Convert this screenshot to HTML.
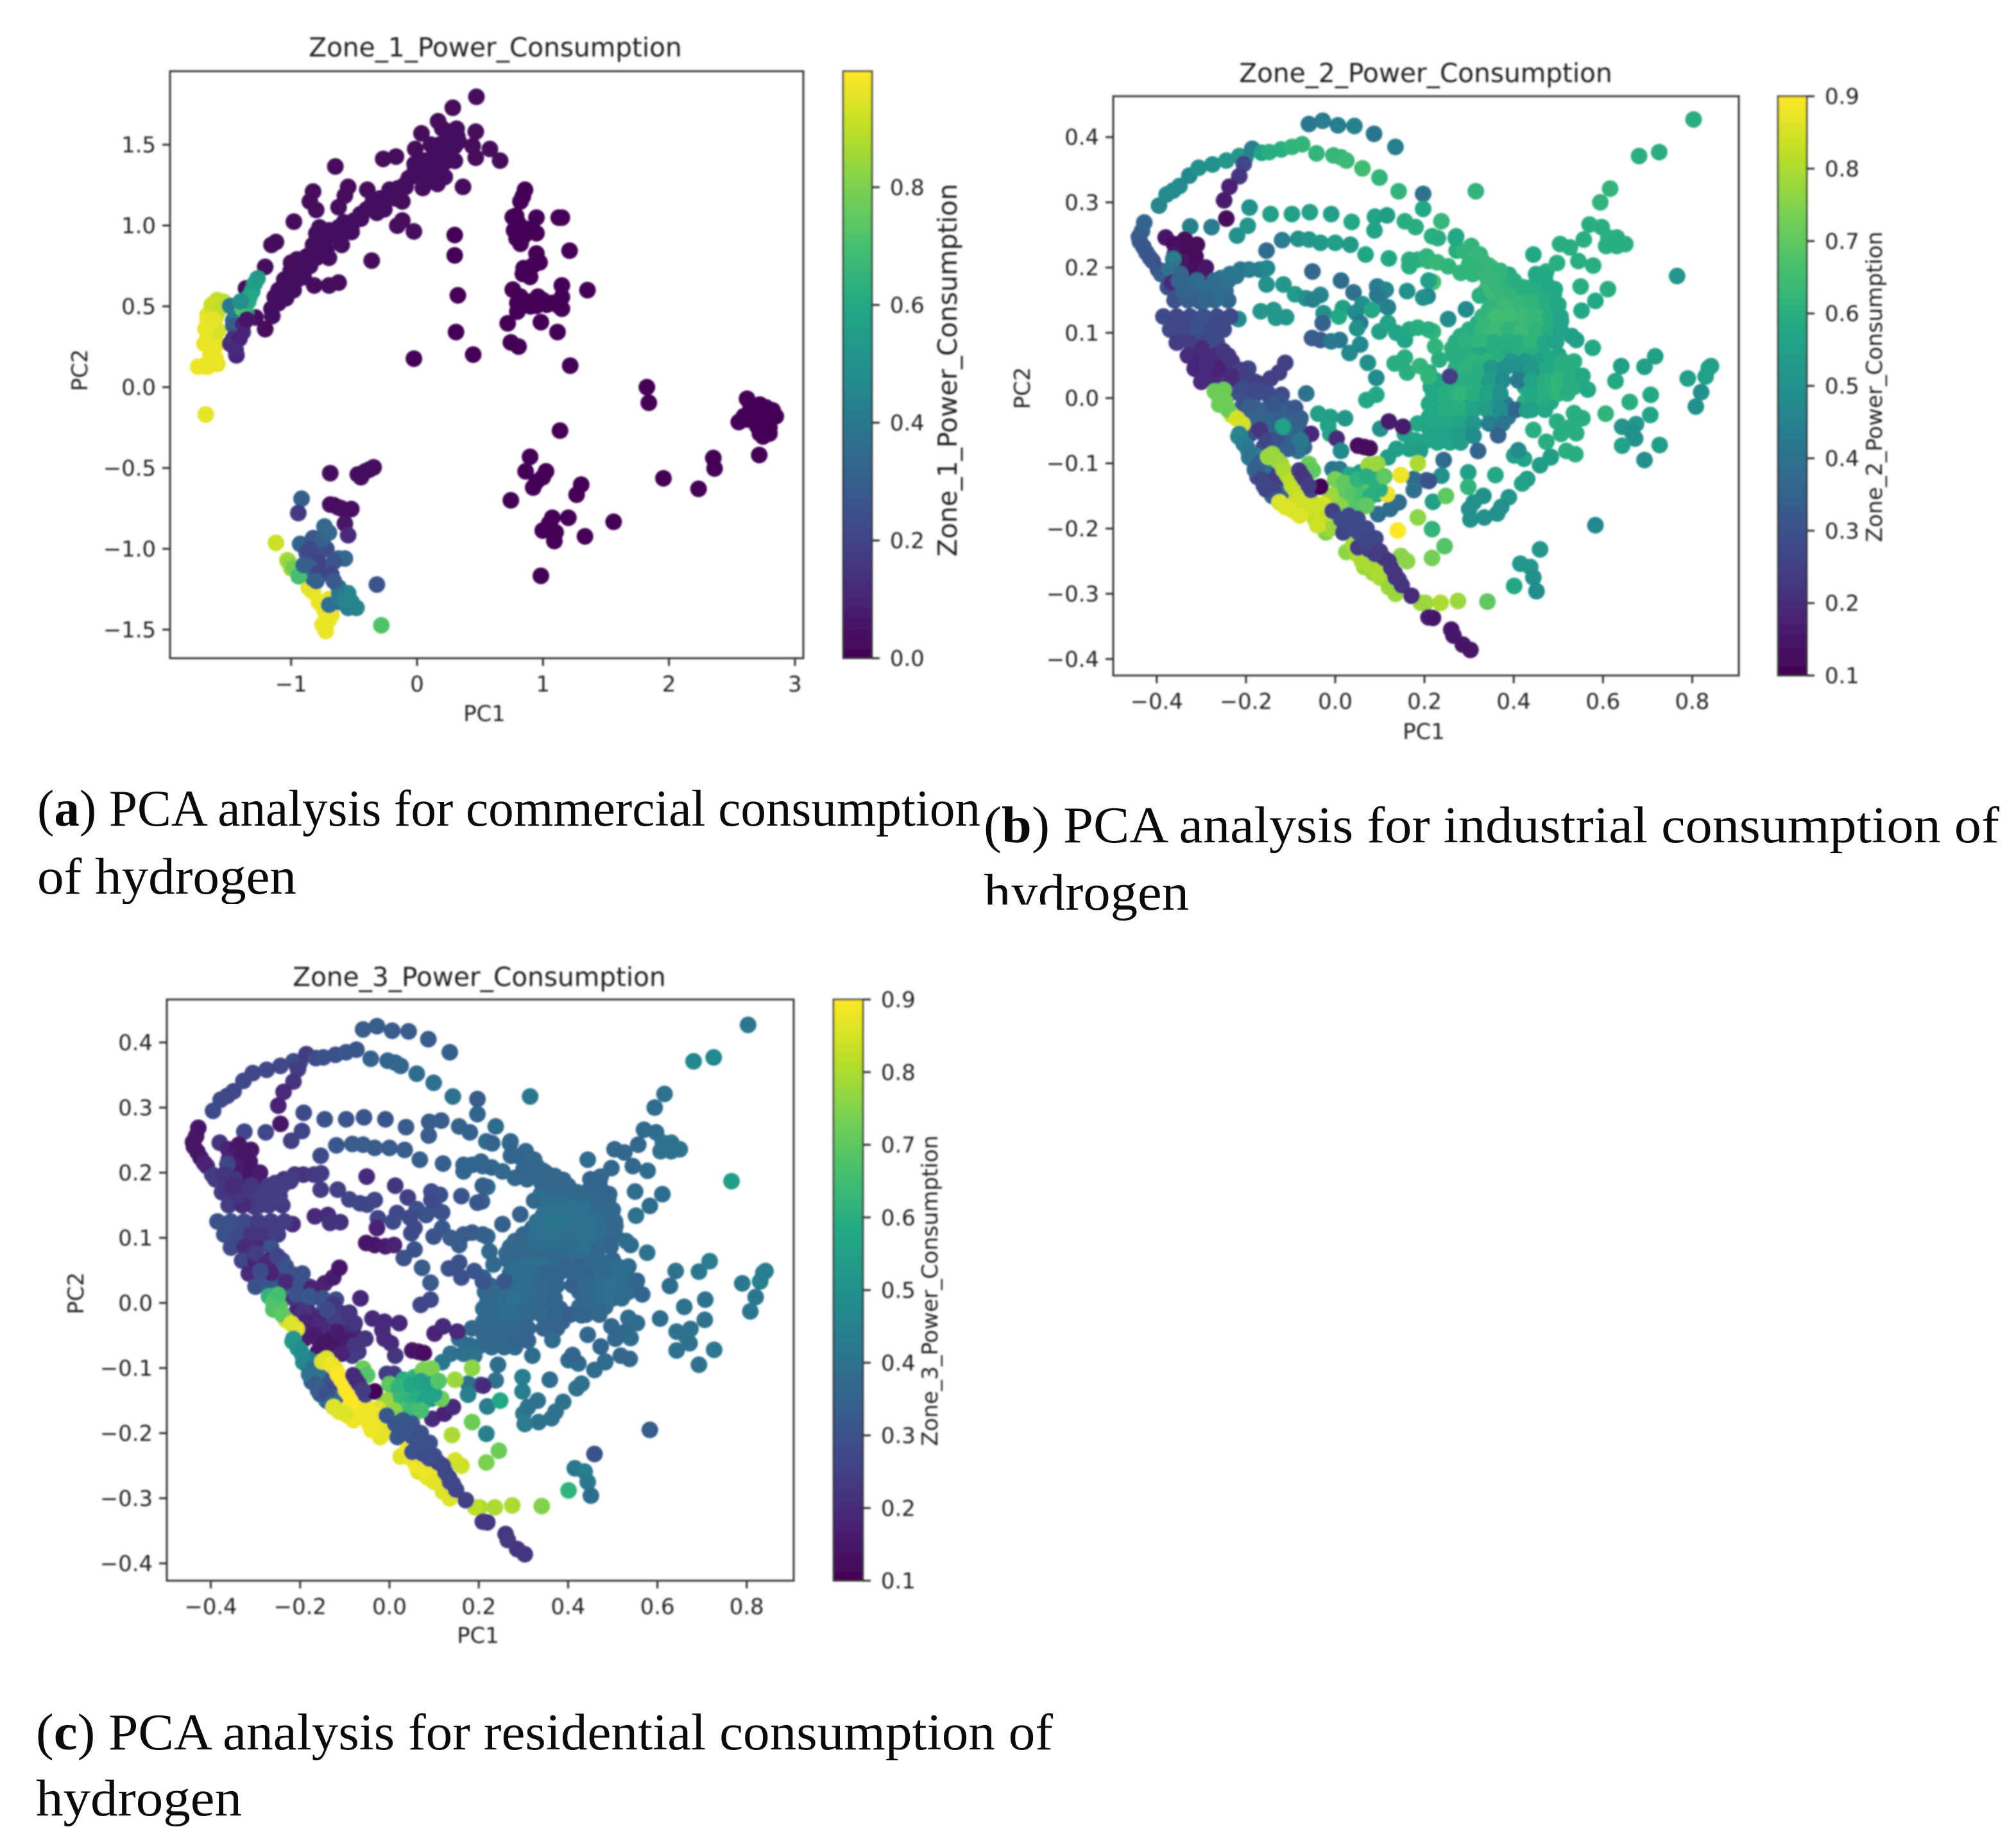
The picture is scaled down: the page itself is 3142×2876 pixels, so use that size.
<!DOCTYPE html>
<html lang="en">
<head>
<meta charset="utf-8">
<title>PCA analysis of hydrogen consumption</title>
<style>
html,body{margin:0;padding:0;background:#fff;}
svg{display:block;}
.t{font-family:"DejaVu Sans","Liberation Sans",sans-serif;fill:#222;}
.cap{font-family:"Liberation Serif",serif;font-size:80px;fill:#0a0a0a;}
</style>
</head>
<body>
<svg xmlns="http://www.w3.org/2000/svg" width="3142" height="2876" viewBox="0 0 3142 2876">
<defs>
<filter id="soft" x="-2%" y="-2%" width="104%" height="104%"><feGaussianBlur stdDeviation="1.3"/></filter>
<linearGradient id="viridis-grad" x1="0" y1="1" x2="0" y2="0"></linearGradient>
</defs>
<rect x="0" y="0" width="3142" height="2876" fill="#fff"/>

<g id="panel-a" filter="url(#soft)">
<text class="t" x="772" y="88" font-size="40.6" text-anchor="middle">Zone_1_Power_Consumption</text>
<text class="t" x="755" y="1124" font-size="33.8" text-anchor="middle">PC1</text>
<text class="t" transform="translate(136,577) rotate(-90)" font-size="33.8" text-anchor="middle">PC2</text>
<text class="t" transform="translate(1491,577) rotate(-90)" font-size="40.6" text-anchor="middle">Zone_1_Power_Consumption</text>
</g>
<g id="panel-b" filter="url(#soft)">
<text class="t" x="2222" y="128" font-size="40.6" text-anchor="middle">Zone_2_Power_Consumption</text>
<text class="t" x="2219" y="1152" font-size="33.8" text-anchor="middle">PC1</text>
<text class="t" transform="translate(1605,605) rotate(-90)" font-size="33.8" text-anchor="middle">PC2</text>
<text class="t" transform="translate(2933,603) rotate(-90)" font-size="33.8" text-anchor="middle">Zone_2_Power_Consumption</text>
</g>
<g id="panel-c" filter="url(#soft)">
<text class="t" x="747" y="1537" font-size="40.6" text-anchor="middle">Zone_3_Power_Consumption</text>
<text class="t" x="745" y="2561" font-size="33.8" text-anchor="middle">PC1</text>
<text class="t" transform="translate(130,2016) rotate(-90)" font-size="33.8" text-anchor="middle">PC2</text>
<text class="t" transform="translate(1461,2012) rotate(-90)" font-size="33.8" text-anchor="middle">Zone_3_Power_Consumption</text>
</g>

<g>
<text class="cap" x="58" y="1287" textLength="1470" lengthAdjust="spacingAndGlyphs">(<tspan font-weight="bold">a</tspan>) PCA analysis for commercial consumption</text>
<text class="cap" x="58" y="1393" textLength="404" lengthAdjust="spacingAndGlyphs">of hydrogen</text>
<rect x="40" y="1409" width="700" height="40" fill="#fff"/>
<text class="cap" x="1533" y="1313" textLength="1583" lengthAdjust="spacingAndGlyphs">(<tspan font-weight="bold">b</tspan>) PCA analysis for industrial consumption of</text>
<text class="cap" x="1533" y="1418" textLength="320" lengthAdjust="spacingAndGlyphs">hydrogen</text>
<rect x="1528" y="1410" width="119" height="30" fill="#fff"/>
<text class="cap" x="56" y="2727" textLength="1585" lengthAdjust="spacingAndGlyphs">(<tspan font-weight="bold">c</tspan>) PCA analysis for residential consumption of</text>
<text class="cap" x="56" y="2830" textLength="321" lengthAdjust="spacingAndGlyphs">hydrogen</text>
</g>
</svg>

<script>
/* ---------- Tick values ---------- */
const zone1XTicks = [-1, 0, 1, 2, 3];
const zone1YTicks = [-1.5, -1.0, -0.5, 0.0, 0.5, 1.0, 1.5];
const zone1CbarTicks = [0.0, 0.2, 0.4, 0.6, 0.8];
const sharedXTicks = [-0.4, -0.2, 0.0, 0.2, 0.4, 0.6, 0.8];
const sharedYTicks = [-0.4, -0.3, -0.2, -0.1, 0.0, 0.1, 0.2, 0.3, 0.4];
const sharedCbarTicks = [0.1, 0.2, 0.3, 0.4, 0.5, 0.6, 0.7, 0.8, 0.9];
const viridisColors = ['#440154','#482475','#414487','#355f8d','#2a788e','#21918c','#22a884','#44bf70','#7ad151','#bddf26','#fde725'];

/* ---------- Zone 1 data (PC1, PC2, consumption) ---------- */
const z1ArchPc1 = [0.471,0.284,0.167,0.035,0.466,0.314,0.238,0.441,0.578,0.466,0.659,-0.015,-0.269,-0.167,-0.649,0.365,0.299,0.238,0.137,0.061,0.188,0.086,-0.015,-0.066,0.162,0.046,-0.091,-0.218,-0.167,-0.395,-0.547,-0.573,-0.623,-0.826,-0.851,-0.801,-0.117,-0.294,-0.319,-0.37,-0.446,-0.522,-0.117,-0.157,-0.025,-0.978,-0.623,-0.699,-0.775,-0.75,-0.598,-0.826,-0.877,-0.826,-0.953,-1.004,-0.902,-1.054,-0.978,-1.08,-1.13,-0.816,-0.699,-0.623,-1.156,-1.206,-1.12,-1.156,-0.36,-1.206,-1.358,0.24,0.33,0.11,0.2,-0.7,-1.0,-0.93,-1.03];
const z1ArchPc2 = [1.796,1.728,1.645,1.57,1.58,1.598,1.545,1.491,1.473,1.419,1.401,1.473,1.412,1.426,1.365,1.239,1.491,1.437,1.437,1.401,1.347,1.311,1.347,1.293,1.257,1.232,1.239,1.221,1.167,1.221,1.239,1.185,1.113,1.21,1.149,1.096,1.149,1.167,1.078,1.113,1.042,0.988,1.031,0.999,0.963,1.024,0.988,0.97,0.988,0.916,0.88,0.88,0.808,0.844,0.79,0.718,0.736,0.665,0.665,0.575,0.557,0.629,0.629,0.647,0.485,0.359,0.898,0.88,0.783,0.744,0.611,1.4,1.52,1.5,1.6,0.8,0.77,0.72,0.62];
const z1ArchValues = [0.02];

const z1ArchFillPc1 = [-1.1,-1.05,-1.0,-0.95,-0.9,-0.85,-0.8,-0.75,-0.7,-0.65,-0.6,-0.55,-0.5,-0.45,-0.4,-0.35,-0.3,-0.25,-0.2,-0.15,-0.1,-0.05,0.0,0.05,0.1,0.15,0.2,0.25,0.3,0.32,0.3,0.22,0.12,0.05,-0.02,0.18,0.26,-0.96,-0.88,-0.8,-0.72,-0.62,-0.98,-0.9,-1.04,-1.1,-1.15,-0.52,-0.72,-0.58,-0.26,-0.8,-0.85];
const z1ArchFillPc2 = [0.6,0.64,0.68,0.72,0.78,0.82,0.87,0.9,0.93,0.95,0.98,1.0,1.03,1.07,1.1,1.15,1.12,1.17,1.2,1.23,1.25,1.3,1.32,1.35,1.38,1.42,1.43,1.45,1.5,1.55,1.4,1.3,1.3,1.28,1.38,1.5,1.58,0.66,0.74,0.8,0.85,0.92,0.6,0.68,0.55,0.52,0.44,0.96,0.82,1.02,1.1,0.95,0.75];
const z1ArchFillValues = [0.03];

const z1ColumnPc1 = [0.299,0.299,0.324,0.309,0.446,-0.025,0.857,0.821,0.786,0.76,0.948,1.125,1.15,0.77,0.846,0.948,0.821,1.211,0.948,0.846,0.922,0.973,0.897,0.76,1.353,1.15,1.15,0.796,0.897,0.998,1.074,0.796,1.125,0.948,1.15,0.72,0.983,1.115,0.745,0.806,1.216,0.84,0.8,0.79,0.86,0.85,0.9,0.82,0.96,1.03,0.84,1.1];
const z1ColumnPc2 = [0.941,0.815,0.568,0.341,0.201,0.176,1.221,1.149,1.06,1.052,1.049,1.049,1.049,0.97,0.934,0.952,0.887,0.844,0.826,0.736,0.754,0.772,0.682,0.603,0.6,0.629,0.557,0.521,0.528,0.539,0.521,0.467,0.503,0.503,0.485,0.395,0.402,0.341,0.277,0.251,0.133,1.18,1.02,0.92,0.98,0.52,0.5,0.56,0.56,0.51,0.7,0.52];
const z1ColumnValues = [0.01];

const z1RightPc1 = [1.825,1.84,2.62,2.554,2.671,2.722,2.772,2.823,2.848,2.772,2.722,2.798,2.747,2.798,2.722,2.717,2.646,2.595,2.696,2.352,2.362,1.956,2.235,1.135,0.897,0.862,1.024,0.998,0.948,0.922,0.745,1.303,1.267,1.074,1.049,0.998,1.1,1.09,1.201,1.333,1.561,0.983,2.69,2.74,2.78,2.72,2.66,2.62,2.76,2.7];
const z1RightPc2 = [0.0,-0.097,-0.072,-0.216,-0.162,-0.108,-0.126,-0.144,-0.18,-0.198,-0.233,-0.251,-0.305,-0.287,-0.287,-0.42,-0.108,-0.18,-0.198,-0.438,-0.503,-0.564,-0.629,-0.269,-0.431,-0.521,-0.521,-0.557,-0.585,-0.621,-0.7,-0.603,-0.665,-0.808,-0.844,-0.887,-0.898,-0.952,-0.808,-0.923,-0.833,-1.167,-0.13,-0.16,-0.18,-0.26,-0.15,-0.2,-0.22,-0.24];
const z1RightValues = [0.01];

const z1LowerDarkPc1 = [-0.689,-0.446,-0.411,-0.345,-0.689,-0.623,-0.522,-0.573,-0.547,-0.6,-0.66,-0.38,-0.47];
const z1LowerDarkPc2 = [-0.532,-0.557,-0.521,-0.496,-0.726,-0.744,-0.754,-0.844,-0.916,-0.75,-0.73,-0.51,-0.54];
const z1LowerDarkValues = [0.03,0.03,0.03,0.03,0.04,0.04,0.04,0.05,0.12,0.04,0.04,0.03,0.03];

const z1YellowPc1 = [-1.678,-1.738,-1.662,-1.586,-1.6,-1.64,-1.586,-1.536,-1.662,-1.612,-1.662,-1.637,-1.688,-1.586,-1.662,-1.62,-1.64,-0.826,-0.725,-0.715,-0.725,-0.699,-0.78,-0.74,-1.12,-1.03,-1.0,-1.7,-1.61,-1.58,-1.6,-1.63,-1.57,-1.65,-1.6,-1.68,-1.62,-0.86,-0.7,-0.75,-0.68,-0.7];
const z1YellowPc2 = [-0.169,0.126,0.126,0.144,0.18,0.2,0.539,0.528,0.449,0.377,0.305,0.233,0.269,0.269,0.413,0.48,0.34,-1.268,-1.401,-1.437,-1.509,-1.311,-1.33,-1.37,-0.963,-1.07,-1.12,0.13,0.3,0.35,0.43,0.51,0.48,0.25,0.16,0.36,0.42,-1.24,-1.36,-1.47,-1.41,-1.44];
const z1YellowValues = [0.96,0.97,0.97,0.96,0.97,0.97,0.9,0.9,0.95,0.97,0.97,0.97,0.96,0.96,0.97,0.93,0.97,0.97,0.98,0.96,0.97,0.96,0.97,0.97,0.92,0.9,0.88,0.97,0.97,0.94,0.94,0.92,0.9,0.97,0.97,0.97,0.96,0.96,0.97,0.97,0.96,0.97];

const z1MixPc1 = [-1.434,-1.485,-1.434,-1.384,-1.282,-1.206,-1.46,-1.485,-1.42,-1.46,-1.36,-1.384,-1.34,-1.308,-1.267,-1.29,-1.33,-1.46,-1.41,-1.44,-1.38,-1.35,-1.4];
const z1MixPc2 = [0.341,0.269,0.197,0.341,0.431,0.359,0.413,0.503,0.45,0.38,0.46,0.485,0.53,0.593,0.672,0.64,0.56,0.3,0.3,0.23,0.39,0.42,0.53];
const z1MixValues = [0.14,0.12,0.1,0.12,0.04,0.02,0.38,0.4,0.42,0.3,0.62,0.72,0.62,0.56,0.53,0.55,0.6,0.14,0.1,0.12,0.1,0.06,0.5];

const z1LowerPc1 = [-0.917,-0.943,-0.735,-0.928,-0.826,-0.775,-0.877,-0.826,-0.725,-0.623,-0.573,-0.79,-0.72,-0.87,-0.76,-0.8,-0.84,-0.66,-0.928,-0.826,-0.725,-0.319,-0.623,-0.547,-0.623,-0.547,-0.481,-0.699,-0.6,-0.284,-1.02,-0.98,-0.94,-0.75,-0.7,-0.78,-0.68,-0.9,-0.85,-0.8,-0.62,-0.58,-0.52,-0.66];
const z1LowerPc2 = [-0.69,-0.779,-0.862,-0.97,-0.934,-1.006,-1.024,-1.078,-1.114,-1.06,-1.06,-1.05,-1.0,-1.1,-1.15,-0.95,-1.13,-1.08,-1.15,-1.185,-1.15,-1.221,-1.239,-1.275,-1.329,-1.365,-1.365,-1.347,-1.3,-1.473,-1.08,-1.12,-1.17,-0.94,-0.9,-1.15,-1.16,-1.1,-1.0,-1.2,-1.28,-1.32,-1.33,-1.2];
const z1LowerValues = [0.3,0.17,0.34,0.32,0.26,0.2,0.24,0.2,0.16,0.34,0.33,0.2,0.24,0.28,0.18,0.28,0.3,0.26,0.32,0.33,0.26,0.26,0.37,0.44,0.34,0.42,0.45,0.36,0.54,0.72,0.84,0.78,0.7,0.3,0.34,0.2,0.2,0.3,0.22,0.3,0.4,0.44,0.44,0.28];

/* ---------- Shared PCA points of Zone 2 / Zone 3 (PC1, PC2, consumption) ---------- */
const coreAPc1 = [0.363,0.391,0.42,0.449,0.478,0.344,0.372,0.401,0.43,0.459,0.487,0.32,0.348,0.377,0.406,0.435,0.463,0.492,0.281,0.31,0.339,0.368,0.396,0.425,0.454,0.483,0.262,0.291,0.32,0.348,0.377,0.406,0.435,0.463];
const coreAPc2 = [0.151,0.151,0.151,0.151,0.151,0.135,0.135,0.135,0.135,0.135,0.135,0.115,0.115,0.115,0.115,0.115,0.115,0.115,0.095,0.095,0.095,0.095,0.095,0.095,0.095,0.095,0.076,0.076,0.076,0.076,0.076,0.076,0.076,0.076];
const coreAZone2 = [0.62,0.63,0.64,0.62,0.58,0.6,0.64,0.62,0.65,0.63,0.58,0.58,0.62,0.64,0.6,0.64,0.62,0.58,0.6,0.62,0.6,0.63,0.6,0.63,0.6,0.57,0.61,0.6,0.58,0.59,0.6,0.62,0.6,0.58];
const coreAZone3 = [0.38,0.39,0.4,0.38,0.36,0.37,0.4,0.39,0.41,0.39,0.37,0.36,0.39,0.4,0.38,0.4,0.39,0.36,0.37,0.38,0.37,0.39,0.37,0.39,0.37,0.36,0.37,0.37,0.36,0.37,0.38,0.39,0.38,0.37];

const coreFillUpperPc1 = [0.38,0.41,0.44,0.47,0.49,0.35,0.38,0.41,0.44,0.47,0.5,0.33,0.36,0.39,0.42,0.45,0.48,0.505,0.3,0.33,0.36,0.39,0.42,0.45,0.48,0.505,0.27,0.295,0.325,0.355,0.385,0.41,0.44,0.47,0.495,0.265,0.295,0.325,0.355,0.385,0.41,0.44,0.47,0.5];
const coreFillUpperPc2 = [0.16,0.16,0.16,0.16,0.16,0.143,0.143,0.143,0.143,0.143,0.143,0.125,0.125,0.125,0.125,0.125,0.125,0.125,0.105,0.105,0.105,0.105,0.105,0.105,0.105,0.105,0.086,0.086,0.086,0.086,0.086,0.086,0.086,0.086,0.086,0.066,0.066,0.066,0.066,0.066,0.066,0.066,0.066,0.066];
const coreFillUpperZone2 = [0.6,0.62,0.62,0.6,0.58,0.62,0.64,0.63,0.62,0.6,0.57,0.62,0.65,0.65,0.64,0.63,0.6,0.57,0.6,0.63,0.64,0.62,0.64,0.62,0.6,0.56,0.6,0.61,0.62,0.6,0.6,0.6,0.62,0.58,0.56,0.6,0.6,0.58,0.59,0.58,0.6,0.6,0.58,0.56];
const coreFillUpperZone3 = [0.38,0.39,0.39,0.38,0.37,0.39,0.4,0.39,0.39,0.38,0.37,0.39,0.41,0.41,0.4,0.39,0.38,0.37,0.37,0.39,0.4,0.39,0.4,0.39,0.38,0.36,0.37,0.37,0.38,0.38,0.38,0.38,0.39,0.37,0.36,0.37,0.37,0.37,0.37,0.37,0.38,0.38,0.37,0.36];

const coreBPc1 = [0.281,0.31,0.339,0.368,0.396,0.425,0.454,0.483,0.511,0.535,0.463,0.492,0.521,0.334,0.363,0.439,0.425,0.454,0.483,0.511,0.535,0.214,0.243,0.272,0.3,0.329,0.358,0.425,0.454,0.483,0.214,0.243,0.272,0.3,0.329,0.358,0.21,0.238,0.267,0.296,0.324,0.353,0.382,0.21,0.238,0.267,0.296,0.358,0.387,0.214,0.243,0.272,0.3,0.229,0.257,0.281,0.219,0.224,0.233,0.21,0.185,0.209,0.156,0.18,0.205,0.137,0.166,0.19,0.118];
const coreBPc2 = [0.056,0.056,0.056,0.056,0.056,0.056,0.056,0.056,0.056,0.056,0.036,0.036,0.036,0.036,0.036,0.036,0.017,0.017,0.017,0.017,0.017,0.017,0.017,0.017,0.017,0.017,0.017,-0.006,-0.006,-0.006,-0.006,-0.006,-0.006,-0.006,-0.006,-0.006,-0.009,-0.009,-0.009,-0.009,-0.009,-0.009,-0.009,-0.029,-0.029,-0.029,-0.029,-0.029,-0.029,-0.049,-0.049,-0.049,-0.049,-0.068,-0.068,-0.068,0.102,0.079,0.059,0.039,-0.039,-0.045,-0.055,-0.065,-0.065,-0.078,-0.078,-0.081,-0.091];
const coreBZone2 = [0.6,0.61,0.62,0.6,0.52,0.52,0.55,0.58,0.6,0.6,0.6,0.62,0.61,0.48,0.48,0.4,0.58,0.6,0.62,0.62,0.6,0.58,0.6,0.62,0.62,0.6,0.58,0.6,0.6,0.58,0.6,0.6,0.62,0.6,0.56,0.52,0.58,0.6,0.6,0.56,0.56,0.5,0.42,0.58,0.58,0.58,0.54,0.54,0.42,0.58,0.58,0.56,0.4,0.56,0.56,0.54,0.62,0.62,0.6,0.6,0.58,0.57,0.56,0.56,0.56,0.55,0.55,0.54,0.54];
const coreBZone3 = [0.38,0.39,0.4,0.38,0.35,0.35,0.37,0.38,0.38,0.38,0.38,0.39,0.38,0.36,0.36,0.34,0.37,0.38,0.39,0.39,0.38,0.38,0.38,0.39,0.39,0.38,0.37,0.38,0.38,0.37,0.38,0.38,0.39,0.38,0.37,0.36,0.38,0.38,0.38,0.37,0.37,0.36,0.35,0.38,0.38,0.38,0.37,0.37,0.35,0.37,0.37,0.37,0.34,0.37,0.37,0.37,0.37,0.37,0.37,0.37,0.37,0.37,0.38,0.38,0.38,0.4,0.4,0.4,0.42];

const coreFillLowerPc1 = [0.27,0.295,0.325,0.35,0.38,0.41,0.44,0.475,0.505,0.53,0.225,0.255,0.285,0.315,0.345,0.375,0.41,0.44,0.47,0.5,0.525,0.22,0.25,0.28,0.31,0.34,0.37,0.44,0.47,0.5,0.52,0.225,0.25,0.28,0.31,0.34,0.37,0.405,0.44,0.47,0.225,0.25,0.28,0.31,0.345,0.375,0.22,0.25,0.28,0.31];
const coreFillLowerPc2 = [0.046,0.046,0.046,0.046,0.046,0.046,0.046,0.046,0.046,0.046,0.027,0.027,0.027,0.027,0.027,0.027,0.027,0.027,0.027,0.027,0.027,0.007,0.007,0.007,0.007,0.007,0.007,0.007,0.007,0.007,0.007,-0.018,-0.018,-0.018,-0.018,-0.018,-0.018,-0.018,-0.018,-0.018,-0.039,-0.039,-0.039,-0.039,-0.039,-0.039,-0.058,-0.058,-0.058,-0.058];
const coreFillLowerZone2 = [0.6,0.61,0.6,0.52,0.5,0.5,0.52,0.58,0.6,0.6,0.58,0.6,0.6,0.6,0.54,0.48,0.42,0.56,0.6,0.62,0.6,0.58,0.6,0.62,0.6,0.56,0.5,0.58,0.6,0.62,0.6,0.58,0.6,0.6,0.56,0.54,0.48,0.36,0.55,0.58,0.58,0.58,0.56,0.52,0.44,0.42,0.56,0.56,0.54,0.48];
const coreFillLowerZone3 = [0.38,0.38,0.38,0.36,0.36,0.36,0.36,0.37,0.38,0.38,0.37,0.38,0.38,0.38,0.37,0.36,0.34,0.37,0.38,0.39,0.38,0.37,0.38,0.39,0.38,0.37,0.36,0.37,0.38,0.39,0.38,0.37,0.38,0.38,0.37,0.37,0.36,0.34,0.36,0.37,0.37,0.37,0.37,0.36,0.35,0.35,0.37,0.37,0.36,0.35];

const farRightPc1 = [0.803,0.681,0.726,0.616,0.594,0.315,0.238,0.217,0.271,0.444,0.504,0.526,0.557,0.57,0.597,0.612,0.607,0.631,0.631,0.65,0.497,0.545,0.578,0.55,0.611,0.583,0.552,0.766,0.53,0.54,0.577,0.641,0.693,0.717,0.628,0.554,0.566,0.79,0.837,0.83,0.842,0.707,0.66,0.606,0.706,0.643,0.674,0.665,0.672,0.643,0.727,0.693,0.808,0.82,0.535,0.554,0.497,0.526,0.54,0.506,0.444,0.473,0.483,0.43];
const farRightPc2 = [0.427,0.371,0.377,0.321,0.3,0.317,0.271,0.248,0.248,0.22,0.236,0.231,0.243,0.266,0.262,0.246,0.233,0.246,0.233,0.236,0.207,0.21,0.203,0.171,0.167,0.149,0.134,0.187,0.095,0.089,0.077,0.049,0.048,0.064,0.026,0.034,0.013,0.03,0.046,0.033,0.049,0.005,-0.006,-0.024,-0.026,-0.044,-0.04,-0.052,-0.062,-0.073,-0.072,-0.095,-0.013,0.009,-0.023,-0.031,-0.036,-0.045,-0.054,-0.055,-0.049,-0.067,-0.09,-0.019];
const farRightZone2 = [0.6,0.6,0.6,0.62,0.62,0.62,0.63,0.6,0.6,0.58,0.6,0.6,0.6,0.6,0.6,0.6,0.6,0.6,0.6,0.6,0.6,0.6,0.6,0.6,0.6,0.58,0.58,0.52,0.55,0.55,0.58,0.55,0.55,0.55,0.58,0.58,0.58,0.55,0.55,0.55,0.55,0.58,0.6,0.62,0.57,0.52,0.52,0.5,0.5,0.56,0.55,0.5,0.5,0.5,0.6,0.6,0.6,0.6,0.6,0.6,0.6,0.6,0.58,0.55];
const farRightZone3 = [0.42,0.47,0.47,0.4,0.38,0.42,0.38,0.38,0.38,0.38,0.37,0.37,0.37,0.38,0.38,0.4,0.4,0.4,0.4,0.4,0.37,0.37,0.38,0.38,0.38,0.38,0.4,0.54,0.38,0.38,0.4,0.4,0.42,0.44,0.38,0.36,0.36,0.42,0.44,0.44,0.44,0.4,0.4,0.38,0.4,0.4,0.4,0.4,0.4,0.4,0.42,0.4,0.42,0.42,0.38,0.38,0.37,0.37,0.38,0.37,0.37,0.36,0.37,0.36];

const topArcPc1 = [-0.059,-0.028,0.006,0.043,0.087,0.135];
const topArcPc2 = [0.42,0.425,0.418,0.417,0.405,0.385];
const topArcZone2 = [0.42,0.43,0.44,0.45,0.41,0.44];
const topArcZone3 = [0.33,0.33,0.33,0.33,0.33,0.34];

const archPc1 = [-0.395,-0.378,-0.363,-0.349,-0.327,-0.306,-0.275,-0.244,-0.215,-0.201,-0.186,-0.165,-0.148,-0.121,-0.097,-0.074,-0.042,-0.004,0.013,0.025,0.061,0.099,0.142];
const archPc2 = [0.295,0.312,0.318,0.325,0.341,0.353,0.358,0.364,0.371,0.369,0.382,0.376,0.377,0.381,0.385,0.389,0.375,0.372,0.369,0.364,0.352,0.338,0.317];
const archZone2 = [0.46,0.48,0.48,0.48,0.47,0.5,0.5,0.52,0.52,0.52,0.44,0.56,0.6,0.6,0.62,0.62,0.62,0.63,0.63,0.64,0.65,0.62,0.62];
const archZone3 = [0.28,0.28,0.27,0.27,0.27,0.27,0.27,0.27,0.28,0.28,0.24,0.29,0.3,0.3,0.31,0.31,0.35,0.36,0.36,0.37,0.38,0.39,0.4];

const branchPc1 = [-0.205,-0.215,-0.237,-0.249,-0.244];
const branchPc2 = [0.359,0.34,0.324,0.303,0.275];
const branchZone2 = [0.27,0.22,0.18,0.16,0.12];
const branchZone3 = [0.24,0.22,0.2,0.18,0.15];

const row28Pc1 = [-0.192,-0.145,-0.097,-0.057,-0.009,0.037,0.089,0.116,0.088,0.156,0.18,0.197,0.197,-0.325,-0.277,-0.22,-0.196];
const row28Pc2 = [0.292,0.282,0.282,0.285,0.282,0.27,0.278,0.28,0.257,0.271,0.262,0.313,0.29,0.263,0.262,0.249,0.264];
const row28Zone2 = [0.5,0.55,0.55,0.56,0.55,0.58,0.56,0.54,0.56,0.6,0.6,0.4,0.58,0.45,0.43,0.5,0.52];
const row28Zone3 = [0.28,0.3,0.31,0.31,0.31,0.33,0.33,0.33,0.33,0.35,0.35,0.33,0.36,0.27,0.27,0.25,0.26];

const row24Pc1 = [-0.154,-0.119,-0.083,-0.059,-0.033,0.0,0.034,0.068,0.12,0.166,0.185,0.209,0.166];
const row24Pc2 = [0.226,0.242,0.244,0.243,0.238,0.238,0.235,0.22,0.214,0.212,0.212,0.21,0.202];
const row24Zone2 = [0.38,0.43,0.5,0.52,0.53,0.55,0.53,0.57,0.58,0.6,0.6,0.62,0.6];
const row24Zone3 = [0.28,0.32,0.33,0.33,0.33,0.33,0.33,0.34,0.34,0.36,0.36,0.37,0.36];

const row19Pc1 = [0.205,0.229,0.253,0.281,0.308,0.219,0.207,0.305,0.272,0.324,0.344,0.358,0.389,0.473,0.459,0.492,0.468,0.497,0.506,0.339,0.324,0.293,0.253,0.23,0.27];
const row19Pc2 = [0.217,0.208,0.202,0.192,0.19,0.178,0.156,0.233,0.226,0.22,0.203,0.19,0.189,0.194,0.174,0.167,0.157,0.144,0.118,0.167,0.157,0.136,0.121,0.245,0.245];
const row19Zone2 = [0.62,0.63,0.62,0.62,0.62,0.66,0.46,0.62,0.6,0.62,0.62,0.63,0.58,0.6,0.6,0.58,0.6,0.58,0.56,0.65,0.6,0.48,0.48,0.6,0.58];
const row19Zone3 = [0.36,0.36,0.37,0.37,0.37,0.38,0.33,0.37,0.36,0.37,0.37,0.37,0.36,0.37,0.37,0.37,0.37,0.37,0.37,0.38,0.37,0.35,0.34,0.36,0.36];

const ridgeFillPc1 = [0.29,0.31,0.33,0.35,0.37,0.3,0.32,0.34,0.36,0.38,0.35,0.37,0.4,0.42,0.36,0.38,0.4,0.44,0.46,0.48,0.45,0.47];
const ridgeFillPc2 = [0.225,0.215,0.21,0.2,0.195,0.205,0.195,0.185,0.175,0.175,0.165,0.165,0.17,0.17,0.18,0.18,0.18,0.17,0.18,0.17,0.19,0.185];
const ridgeFillZone2 = [0.62,0.63,0.63,0.63,0.62,0.62,0.62,0.63,0.64,0.63,0.64,0.63,0.62,0.6,0.63,0.62,0.6,0.6,0.6,0.58,0.58,0.58];
const ridgeFillZone3 = [0.36,0.37,0.37,0.37,0.37,0.36,0.37,0.37,0.38,0.37,0.38,0.38,0.38,0.37,0.37,0.37,0.37,0.37,0.36,0.36,0.36,0.36];

const leftWebPc1 = [-0.212,-0.193,-0.169,-0.153,-0.236,-0.256,-0.222,-0.154,-0.116,-0.09,-0.066,-0.033,-0.05,-0.051,0.013,0.041,0.094,0.113,0.161,0.197,0.061,0.104,0.118,0.094];
const leftWebPc2 = [0.197,0.197,0.197,0.199,0.19,0.184,0.187,0.174,0.174,0.159,0.153,0.158,0.151,0.194,0.18,0.162,0.171,0.166,0.164,0.154,0.144,0.144,0.139,0.158];
const leftWebZone2 = [0.42,0.43,0.44,0.47,0.42,0.42,0.4,0.5,0.52,0.53,0.5,0.46,0.45,0.37,0.38,0.4,0.44,0.46,0.5,0.5,0.5,0.45,0.45,0.42];
const leftWebZone3 = [0.22,0.22,0.23,0.24,0.22,0.22,0.22,0.24,0.25,0.26,0.26,0.26,0.26,0.2,0.22,0.25,0.29,0.3,0.31,0.32,0.3,0.3,0.3,0.28];

const row13Pc1 = [-0.217,-0.167,-0.138,-0.133,-0.11,-0.026,0.017,0.008,0.046,0.056,0.049,0.082,0.099,0.118,0.137,0.156,0.166,0.185,0.209,-0.028];
const row13Pc2 = [0.121,0.133,0.135,0.123,0.124,0.13,0.138,0.125,0.131,0.115,0.107,0.135,0.102,0.115,0.1,0.089,0.105,0.108,0.105,0.115];
const row13Zone2 = [0.48,0.52,0.52,0.52,0.52,0.5,0.55,0.58,0.48,0.42,0.5,0.58,0.55,0.56,0.56,0.56,0.58,0.6,0.6,0.35];
const row13Zone3 = [0.2,0.2,0.2,0.21,0.21,0.26,0.27,0.28,0.28,0.27,0.28,0.3,0.3,0.32,0.33,0.33,0.33,0.33,0.34,0.18];

const row09Pc1 = [-0.052,-0.033,-0.009,0.01,0.032,0.056,0.073,0.092,0.07,0.092,-0.065,0.133,0.156,0.161,0.19,0.209,0.209];
const row09Pc2 = [0.092,0.089,0.087,0.089,0.069,0.082,0.054,0.031,-0.003,0.005,0.007,0.053,0.062,0.039,0.049,0.033,0.18];
const row09Zone2 = [0.33,0.33,0.42,0.42,0.47,0.47,0.5,0.48,0.58,0.58,0.4,0.6,0.6,0.6,0.62,0.62,0.55];
const row09Zone3 = [0.15,0.15,0.16,0.17,0.3,0.3,0.33,0.33,0.27,0.27,0.19,0.3,0.3,0.3,0.31,0.31,0.34];

const leftEdgePc1 = [-0.428,-0.433,-0.438,-0.423,-0.409,-0.397,-0.44,-0.43,-0.415];
const leftEdgePc2 = [0.269,0.256,0.24,0.223,0.21,0.197,0.247,0.232,0.215];
const leftEdgeZone2 = [0.36,0.36,0.34,0.33,0.31,0.3,0.33,0.32,0.31];
const leftEdgeZone3 = [0.15,0.14,0.14,0.15,0.2,0.25,0.14,0.14,0.17];

const bandUpperPc1 = [-0.39,-0.36,-0.33,-0.3,-0.375,-0.35,-0.32,-0.29,-0.26,-0.36,-0.33,-0.3,-0.27,-0.24];
const bandUpperPc2 = [0.19,0.19,0.19,0.19,0.17,0.17,0.17,0.17,0.17,0.15,0.15,0.15,0.15,0.15];
const bandUpperZone2 = [0.33,0.36,0.38,0.38,0.3,0.36,0.38,0.38,0.37,0.3,0.36,0.37,0.37,0.36];
const bandUpperZone3 = [0.24,0.2,0.2,0.22,0.24,0.2,0.2,0.22,0.22,0.24,0.2,0.24,0.26,0.24];

const bandMiddlePc1 = [-0.385,-0.355,-0.325,-0.295,-0.265,-0.235,-0.37,-0.34,-0.31,-0.28,-0.25,-0.355,-0.325,-0.295,-0.265,-0.33,-0.3,-0.27,-0.24];
const bandMiddlePc2 = [0.125,0.125,0.125,0.125,0.125,0.125,0.105,0.105,0.105,0.105,0.105,0.085,0.085,0.085,0.085,0.065,0.065,0.065,0.065];
const bandMiddleZone2 = [0.28,0.27,0.28,0.3,0.28,0.27,0.27,0.27,0.3,0.28,0.27,0.24,0.24,0.26,0.28,0.2,0.19,0.2,0.22];
const bandMiddleZone3 = [0.3,0.3,0.28,0.24,0.24,0.24,0.3,0.28,0.22,0.22,0.24,0.28,0.2,0.2,0.3,0.26,0.18,0.18,0.3];

const bandLowerPc1 = [-0.315,-0.285,-0.255,-0.225,-0.195,-0.3,-0.27,-0.24,-0.21,-0.18,-0.24,-0.21,-0.18,-0.15,-0.12,-0.21,-0.18,-0.15,-0.12,-0.09,-0.2,-0.17,-0.14,-0.11,-0.08,-0.19,-0.16,-0.13,-0.1,-0.07,-0.16,-0.13,-0.1,-0.07];
const bandLowerPc2 = [0.045,0.045,0.045,0.045,0.045,0.025,0.025,0.025,0.025,0.025,0.005,0.005,0.005,0.005,0.005,-0.015,-0.015,-0.015,-0.015,-0.015,-0.035,-0.035,-0.035,-0.035,-0.035,-0.055,-0.055,-0.055,-0.055,-0.055,-0.075,-0.075,-0.075,-0.075];
const bandLowerZone2 = [0.19,0.19,0.2,0.25,0.27,0.2,0.2,0.22,0.25,0.27,0.28,0.3,0.3,0.32,0.28,0.3,0.34,0.34,0.34,0.32,0.32,0.34,0.36,0.36,0.34,0.3,0.34,0.36,0.38,0.36,0.28,0.33,0.38,0.36];
const bandLowerZone3 = [0.2,0.3,0.3,0.3,0.3,0.3,0.32,0.32,0.3,0.3,0.2,0.22,0.3,0.32,0.28,0.18,0.2,0.3,0.3,0.22,0.17,0.17,0.22,0.24,0.18,0.16,0.15,0.15,0.2,0.18,0.15,0.15,0.2,0.2];

const purpleBlockPc1 = [-0.38,-0.361,-0.337,-0.342,-0.313,-0.308,-0.332,-0.299,-0.32,-0.35,-0.36,-0.33,-0.32,-0.3,-0.345,-0.31,-0.29];
const purpleBlockPc2 = [0.246,0.236,0.243,0.23,0.217,0.203,0.213,0.184,0.19,0.225,0.22,0.225,0.2,0.2,0.21,0.235,0.2];
const purpleBlockZone2 = [0.15,0.13,0.12,0.13,0.12,0.12,0.13,0.17,0.14,0.13,0.15,0.12,0.13,0.13,0.14,0.12,0.14];
const purpleBlockZone3 = [0.22,0.18,0.14,0.15,0.15,0.14,0.15,0.18,0.16,0.16,0.18,0.14,0.15,0.15,0.16,0.14,0.16];

const tealMassPc1 = [-0.363,-0.371,-0.347,-0.332,-0.313,-0.289,-0.265,-0.246,-0.27,-0.303,-0.327,-0.366,-0.31,-0.28,-0.26,-0.34,-0.35,-0.29,-0.24,-0.22];
const tealMassPc2 = [0.213,0.197,0.19,0.174,0.167,0.161,0.167,0.164,0.18,0.148,0.151,0.177,0.18,0.17,0.155,0.165,0.18,0.15,0.18,0.19];
const tealMassZone2 = [0.43,0.4,0.37,0.36,0.37,0.38,0.38,0.37,0.38,0.33,0.33,0.2,0.38,0.38,0.38,0.36,0.36,0.36,0.4,0.42];
const tealMassZone3 = [0.26,0.22,0.22,0.2,0.23,0.24,0.24,0.24,0.24,0.23,0.2,0.22,0.22,0.24,0.24,0.22,0.2,0.24,0.24,0.24];

const darkBandPc1 = [-0.299,-0.275,-0.251,-0.265,-0.289,-0.232,-0.212,-0.232,-0.198,-0.174,-0.145,-0.126,-0.112];
const darkBandPc2 = [0.076,0.062,0.072,0.046,0.049,0.056,0.043,0.033,0.03,0.023,0.03,0.039,0.054];
const darkBandZone2 = [0.2,0.2,0.22,0.18,0.2,0.22,0.24,0.2,0.25,0.25,0.25,0.25,0.25];
const darkBandZone3 = [0.24,0.2,0.26,0.18,0.28,0.3,0.3,0.2,0.3,0.17,0.17,0.16,0.15];

const blueBandPc1 = [-0.208,-0.179,-0.15,-0.126,-0.107,-0.078,-0.193,-0.16,-0.189,-0.155,-0.126,-0.14];
const blueBandPc2 = [0.014,0.01,0.007,-0.003,-0.016,-0.031,-0.013,-0.023,-0.029,-0.036,-0.02,-0.01];
const blueBandZone2 = [0.29,0.28,0.28,0.3,0.32,0.34,0.33,0.35,0.35,0.36,0.34,0.32];
const blueBandZone3 = [0.3,0.32,0.3,0.22,0.22,0.22,0.22,0.19,0.18,0.2,0.24,0.28];

const midBluePc1 = [-0.169,-0.15,-0.126,-0.093,-0.074,-0.083,-0.107,-0.054,-0.117,-0.078];
const midBluePc2 = [-0.049,-0.065,-0.062,-0.059,-0.072,-0.081,-0.078,-0.055,-0.044,-0.065];
const midBlueZone2 = [0.22,0.26,0.3,0.36,0.38,0.4,0.34,0.2,0.55,0.42];
const midBlueZone3 = [0.16,0.14,0.14,0.16,0.24,0.24,0.18,0.22,0.16,0.22];

const centerTealPc1 = [-0.038,-0.011,0.022,-0.016,-0.011,0.003,0.013,0.101,0.12,0.152,0.051,0.065,0.077];
const centerTealPc2 = [-0.024,-0.029,-0.031,-0.042,-0.055,-0.062,-0.081,-0.047,-0.036,-0.044,-0.073,-0.075,-0.077];
const centerTealZone2 = [0.55,0.55,0.52,0.56,0.56,0.2,0.47,0.5,0.16,0.16,0.13,0.13,0.12];
const centerTealZone3 = [0.2,0.2,0.19,0.2,0.2,0.2,0.22,0.18,0.2,0.2,0.14,0.14,0.13];

const greenPatchPc1 = [-0.27,-0.26,-0.246,-0.232,-0.208,-0.25,-0.26,-0.24,-0.22];
const greenPatchPc2 = [0.01,0.001,-0.006,-0.026,-0.04,0.012,-0.01,-0.018,-0.032];
const greenPatchZone2 = [0.72,0.72,0.73,0.83,0.85,0.72,0.72,0.72,0.85];
const greenPatchZone3 = [0.62,0.68,0.69,0.84,0.87,0.66,0.68,0.7,0.86];

const tealBandPc1 = [-0.217,-0.198,-0.179,-0.193,-0.174,-0.174,-0.141,-0.16,-0.131,-0.141,-0.121,-0.16,-0.215,-0.205,-0.195,-0.185,-0.17,-0.18,-0.165,-0.155,-0.14,-0.13,-0.115];
const tealBandPc2 = [-0.059,-0.075,-0.088,-0.091,-0.111,-0.121,-0.118,-0.134,-0.134,-0.15,-0.147,-0.105,-0.055,-0.07,-0.08,-0.095,-0.1,-0.11,-0.125,-0.14,-0.14,-0.155,-0.16];
const tealBandZone2 = [0.46,0.44,0.43,0.42,0.36,0.26,0.24,0.26,0.24,0.35,0.36,0.4,0.46,0.44,0.42,0.4,0.34,0.34,0.26,0.26,0.26,0.32,0.34];
const tealBandZone3 = [0.52,0.5,0.45,0.47,0.4,0.34,0.3,0.33,0.28,0.38,0.4,0.42,0.52,0.5,0.48,0.46,0.4,0.4,0.33,0.33,0.3,0.36,0.38];

const centerGreenPc1 = [-0.006,0.01,0.032,0.056,0.08,0.013,0.037,0.065,0.089,0.094,0.032,0.008,0.061,0.046,0.075,0.094,0.116,0.0,0.02,0.05,0.07,0.09,0.02,0.04,0.06,0.08,0.1,0.11,0.03,0.05,0.01,-0.01,0.07];
const centerGreenPc2 = [-0.109,-0.109,-0.118,-0.114,-0.118,-0.137,-0.134,-0.131,-0.134,-0.147,-0.16,-0.144,-0.168,-0.177,-0.103,-0.101,-0.147,-0.125,-0.13,-0.125,-0.12,-0.125,-0.15,-0.15,-0.15,-0.15,-0.14,-0.12,-0.165,-0.165,-0.165,-0.15,-0.165];
const centerGreenZone2 = [0.42,0.42,0.58,0.55,0.58,0.75,0.7,0.7,0.65,0.5,0.68,0.76,0.88,0.88,0.78,0.78,0.88,0.74,0.7,0.62,0.6,0.6,0.7,0.68,0.66,0.6,0.6,0.7,0.7,0.68,0.76,0.78,0.7];
const centerGreenZone3 = [0.24,0.24,0.6,0.62,0.5,0.68,0.6,0.58,0.56,0.48,0.66,0.75,0.8,0.86,0.74,0.74,0.72,0.7,0.62,0.58,0.56,0.55,0.64,0.62,0.6,0.56,0.56,0.68,0.66,0.64,0.76,0.78,0.66];

const limeBandPc1 = [-0.141,-0.121,-0.107,-0.097,-0.083,-0.112,-0.093,-0.064,-0.045,-0.026,-0.045,-0.021,-0.059,-0.05,-0.15,-0.13,-0.115,-0.1,-0.09,-0.09,-0.075,-0.06,-0.08,-0.05,-0.035,-0.03,-0.015,-0.01,-0.04,-0.1,-0.125];
const limeBandPc2 = [-0.086,-0.101,-0.118,-0.134,-0.15,-0.167,-0.173,-0.163,-0.177,-0.163,-0.186,-0.206,-0.101,-0.111,-0.09,-0.095,-0.11,-0.125,-0.14,-0.16,-0.155,-0.17,-0.18,-0.16,-0.17,-0.19,-0.18,-0.2,-0.195,-0.17,-0.16];
const limeBandZone2 = [0.77,0.78,0.8,0.81,0.82,0.86,0.88,0.84,0.84,0.85,0.82,0.75,0.72,0.7,0.78,0.78,0.8,0.82,0.83,0.84,0.84,0.84,0.86,0.84,0.84,0.84,0.83,0.78,0.84,0.86,0.86];
const limeBandZone3 = [0.86,0.88,0.9,0.9,0.9,0.86,0.88,0.88,0.88,0.86,0.88,0.87,0.72,0.68,0.86,0.88,0.9,0.9,0.9,0.9,0.9,0.88,0.88,0.88,0.88,0.88,0.88,0.87,0.88,0.86,0.86];

const innerDarkPc1 = [-0.081,-0.069,-0.054,-0.033,-0.075,-0.06];
const innerDarkPc2 = [-0.111,-0.124,-0.141,-0.136,-0.118,-0.134];
const innerDarkZone2 = [0.24,0.22,0.26,0.1,0.22,0.24];
const innerDarkZone3 = [0.2,0.2,0.26,0.1,0.2,0.24];

const lowerLimePc1 = [0.025,0.065,0.085,0.109,0.123,0.192,0.147,0.161,0.185,0.14,0.147,0.185,0.04,0.05,0.06,0.08,0.095,0.1,0.12,0.135];
const lowerLimePc2 = [-0.236,-0.259,-0.268,-0.265,-0.282,-0.314,-0.242,-0.25,-0.183,-0.203,-0.118,-0.1,-0.225,-0.24,-0.25,-0.255,-0.26,-0.275,-0.29,-0.3];
const lowerLimeZone2 = [0.76,0.78,0.78,0.78,0.76,0.78,0.76,0.76,0.76,0.9,0.88,0.8,0.8,0.8,0.8,0.8,0.8,0.8,0.78,0.78];
const lowerLimeZone3 = [0.86,0.86,0.88,0.87,0.86,0.82,0.85,0.84,0.72,0.8,0.78,0.76,0.88,0.88,0.88,0.88,0.88,0.87,0.86,0.86];

const diagonalPc1 = [-0.006,0.013,0.046,0.018,0.061,0.051,0.089,0.075,0.109,0.133,0.142,0.149,0.171,0.209,0.219,0.26,0.265,0.286,0.303,0.03,0.05,0.03,0.05,0.07,0.07,0.09,0.1,0.12,0.125,0.135];
const diagonalPc2 = [-0.173,-0.186,-0.196,-0.206,-0.209,-0.229,-0.239,-0.232,-0.245,-0.268,-0.278,-0.287,-0.303,-0.336,-0.337,-0.355,-0.364,-0.378,-0.386,-0.18,-0.185,-0.2,-0.205,-0.2,-0.22,-0.215,-0.235,-0.25,-0.26,-0.275];
const diagonalZone2 = [0.25,0.28,0.28,0.26,0.28,0.24,0.24,0.24,0.22,0.2,0.22,0.22,0.2,0.16,0.15,0.15,0.15,0.14,0.14,0.28,0.28,0.27,0.28,0.28,0.26,0.26,0.24,0.22,0.22,0.22];
const diagonalZone3 = [0.32,0.32,0.3,0.32,0.3,0.3,0.3,0.28,0.24,0.26,0.28,0.26,0.25,0.23,0.23,0.23,0.23,0.22,0.22,0.32,0.32,0.31,0.31,0.3,0.3,0.3,0.29,0.27,0.27,0.27];

const rightBluePc1 = [0.176,0.204,0.176,0.096,0.123,0.142,0.32,0.243,0.238,0.21,0.365,0.257];
const rightBluePc2 = [-0.124,-0.126,-0.141,-0.178,-0.17,-0.16,-0.081,-0.095,-0.119,-0.127,-0.057,0.033];
const rightBlueZone2 = [0.38,0.36,0.4,0.38,0.38,0.38,0.36,0.38,0.5,0.3,0.35,0.25];
const rightBlueZone3 = [0.4,0.32,0.45,0.2,0.18,0.2,0.38,0.38,0.4,0.2,0.38,0.32];

const lowerRightPc1 = [0.202,0.236,0.275,0.341,0.217,0.245,0.217,0.219,0.248,0.298,0.298,0.359,0.419,0.43,0.389,0.372,0.363,0.334,0.303,0.3,0.332,0.31,0.401,0.423,0.459,0.483,0.41,0.518,0.538,0.583,0.459,0.415,0.437,0.444,0.451,0.401];
const lowerRightPc2 = [-0.314,-0.314,-0.311,-0.312,-0.245,-0.227,-0.201,-0.159,-0.15,-0.114,-0.136,-0.118,-0.131,-0.124,-0.152,-0.167,-0.177,-0.183,-0.186,-0.17,-0.15,-0.16,-0.088,-0.093,-0.103,-0.091,-0.08,-0.081,-0.086,-0.195,-0.232,-0.254,-0.259,-0.275,-0.296,-0.288];
const lowerRightZone2 = [0.78,0.8,0.78,0.7,0.73,0.68,0.62,0.55,0.7,0.55,0.62,0.58,0.56,0.55,0.52,0.5,0.5,0.5,0.5,0.5,0.5,0.5,0.56,0.56,0.54,0.54,0.48,0.6,0.6,0.47,0.52,0.52,0.52,0.5,0.48,0.58];
const lowerRightZone3 = [0.8,0.8,0.8,0.75,0.74,0.72,0.45,0.43,0.58,0.44,0.44,0.38,0.4,0.4,0.4,0.4,0.4,0.4,0.43,0.43,0.4,0.4,0.38,0.38,0.38,0.38,0.36,0.37,0.37,0.33,0.3,0.42,0.44,0.42,0.38,0.62];

/* ---------- Series groups in draw order ---------- */
const zone1Groups = [
  [z1ArchPc1, z1ArchPc2, z1ArchValues],
  [z1ArchFillPc1, z1ArchFillPc2, z1ArchFillValues],
  [z1ColumnPc1, z1ColumnPc2, z1ColumnValues],
  [z1RightPc1, z1RightPc2, z1RightValues],
  [z1LowerDarkPc1, z1LowerDarkPc2, z1LowerDarkValues],
  [z1YellowPc1, z1YellowPc2, z1YellowValues],
  [z1MixPc1, z1MixPc2, z1MixValues],
  [z1LowerPc1, z1LowerPc2, z1LowerValues]
];
const sharedGroups = [
  [coreAPc1, coreAPc2, coreAZone2, coreAZone3],
  [coreFillUpperPc1, coreFillUpperPc2, coreFillUpperZone2, coreFillUpperZone3],
  [coreBPc1, coreBPc2, coreBZone2, coreBZone3],
  [coreFillLowerPc1, coreFillLowerPc2, coreFillLowerZone2, coreFillLowerZone3],
  [farRightPc1, farRightPc2, farRightZone2, farRightZone3],
  [topArcPc1, topArcPc2, topArcZone2, topArcZone3],
  [archPc1, archPc2, archZone2, archZone3],
  [branchPc1, branchPc2, branchZone2, branchZone3],
  [row28Pc1, row28Pc2, row28Zone2, row28Zone3],
  [row24Pc1, row24Pc2, row24Zone2, row24Zone3],
  [row19Pc1, row19Pc2, row19Zone2, row19Zone3],
  [ridgeFillPc1, ridgeFillPc2, ridgeFillZone2, ridgeFillZone3],
  [leftWebPc1, leftWebPc2, leftWebZone2, leftWebZone3],
  [row13Pc1, row13Pc2, row13Zone2, row13Zone3],
  [row09Pc1, row09Pc2, row09Zone2, row09Zone3],
  [lowerRightPc1, lowerRightPc2, lowerRightZone2, lowerRightZone3],
  [rightBluePc1, rightBluePc2, rightBlueZone2, rightBlueZone3],
  [leftEdgePc1, leftEdgePc2, leftEdgeZone2, leftEdgeZone3],
  [bandUpperPc1, bandUpperPc2, bandUpperZone2, bandUpperZone3],
  [bandMiddlePc1, bandMiddlePc2, bandMiddleZone2, bandMiddleZone3],
  [bandLowerPc1, bandLowerPc2, bandLowerZone2, bandLowerZone3],
  [purpleBlockPc1, purpleBlockPc2, purpleBlockZone2, purpleBlockZone3],
  [tealMassPc1, tealMassPc2, tealMassZone2, tealMassZone3],
  [darkBandPc1, darkBandPc2, darkBandZone2, darkBandZone3],
  [blueBandPc1, blueBandPc2, blueBandZone2, blueBandZone3],
  [midBluePc1, midBluePc2, midBlueZone2, midBlueZone3],
  [centerTealPc1, centerTealPc2, centerTealZone2, centerTealZone3],
  [greenPatchPc1, greenPatchPc2, greenPatchZone2, greenPatchZone3],
  [tealBandPc1, tealBandPc2, tealBandZone2, tealBandZone3],
  [centerGreenPc1, centerGreenPc2, centerGreenZone2, centerGreenZone3],
  [limeBandPc1, limeBandPc2, limeBandZone2, limeBandZone3],
  [innerDarkPc1, innerDarkPc2, innerDarkZone2, innerDarkZone3],
  [lowerLimePc1, lowerLimePc2, lowerLimeZone2, lowerLimeZone3],
  [diagonalPc1, diagonalPc2, diagonalZone2, diagonalZone3]
];

/* ---------- Rendering ---------- */
const NS = 'http://www.w3.org/2000/svg';
const grad = document.getElementById('viridis-grad');
viridisColors.forEach(function (c, i) {
  const s = document.createElementNS(NS, 'stop');
  s.setAttribute('offset', i / (viridisColors.length - 1));
  s.setAttribute('stop-color', c);
  grad.appendChild(s);
});

function hex(c) { return [1, 3, 5].map(function (k) { return parseInt(c.substr(k, 2), 16); }); }
function viridis(t) {
  t = Math.max(0, Math.min(1, t));
  const p = t * (viridisColors.length - 1);
  const i = Math.min(Math.floor(p), viridisColors.length - 2);
  const a = hex(viridisColors[i]), b = hex(viridisColors[i + 1]);
  const f = p - i;
  return 'rgb(' + a.map(function (v, k) { return Math.round(v + (b[k] - v) * f); }).join(',') + ')';
}
function fmt(v, d) { return (v < 0 ? '\u2212' : '') + Math.abs(v).toFixed(d); }

function el(parent, tag, attrs) {
  const e = document.createElementNS(NS, tag);
  for (const k in attrs) e.setAttribute(k, attrs[k]);
  parent.appendChild(e);
  return e;
}

function drawPanel(cfg) {
  const g = document.getElementById(cfg.id);
  const sx = function (v) { return cfg.x0 + v * cfg.kx; };
  const sy = function (v) { return cfg.y0 - v * cfg.ky; };
  const sc = function (v) { return cfg.b - (v - cfg.vmin) / (cfg.vmax - cfg.vmin) * (cfg.b - cfg.t); };

  const marks = el(g, 'g', {});
  
  
  cfg.series.forEach(function (s) {
    const xs = s[0], ys = s[1], zs = s[2];
    const n = Math.min(xs.length, ys.length);
    for (let i = 0; i < n; i++) {
      const z = zs[Math.min(i, zs.length - 1)];
      const c = el(marks, 'circle', {
        cx: sx(xs[i]).toFixed(1),
        cy: sy(ys[i]).toFixed(1),
        r: 13,
        fill: viridis((z - cfg.vmin) / (cfg.vmax - cfg.vmin))
      });
      
      
    }
  });

  const frame = el(g, 'rect', { x: cfg.l, y: cfg.t, width: cfg.r - cfg.l, height: cfg.b - cfg.t, fill: 'none', stroke: '#3a3a3a', 'stroke-width': 3 });
  
  

  cfg.xTicks.forEach(function (v) {
    const x = sx(v);
    const tick = el(g, 'line', { x1: x, x2: x, y1: cfg.b, y2: cfg.b + 12, stroke: '#333', 'stroke-width': 3 });
    
    
    const label = el(g, 'text', { class: 't', x: x, y: cfg.b + 52, 'font-size': 33.8, 'text-anchor': 'middle' });
    label.textContent = fmt(v, cfg.xDigits);
    
    
  });
  cfg.yTicks.forEach(function (v) {
    const y = sy(v);
    const tick = el(g, 'line', { x1: cfg.l - 12, x2: cfg.l, y1: y, y2: y, stroke: '#333', 'stroke-width': 3 });
    
    
    const label = el(g, 'text', { class: 't', x: cfg.l - 22, y: y + 12, 'font-size': 33.8, 'text-anchor': 'end' });
    label.textContent = fmt(v, 1);
    
    
  });

  const bar = el(g, 'rect', { x: cfg.cl, y: cfg.t, width: cfg.cr - cfg.cl, height: cfg.b - cfg.t, fill: 'url(#viridis-grad)', stroke: '#333', 'stroke-width': 2.5 });
  
  
  cfg.cTicks.forEach(function (v) {
    const y = sc(v);
    const tick = el(g, 'line', { x1: cfg.cr, x2: cfg.cr + 12, y1: y, y2: y, stroke: '#333', 'stroke-width': 3 });
    
    
    const label = el(g, 'text', { class: 't', x: cfg.cr + 28, y: y + 12, 'font-size': 33.8 });
    label.textContent = fmt(v, 1);
    
    
  });
}

drawPanel({
  id: 'panel-a', l: 265, r: 1252, t: 111, b: 1026, x0: 650, kx: 196.3, y0: 603.5, ky: 252,
  cl: 1314, cr: 1359, vmin: 0, vmax: 0.997, xDigits: 0,
  xTicks: zone1XTicks, yTicks: zone1YTicks, cTicks: zone1CbarTicks,
  series: zone1Groups
});
drawPanel({
  id: 'panel-b', l: 1735, r: 2710, t: 150, b: 1053, x0: 2081, kx: 695.5, y0: 620.5, ky: 1017,
  cl: 2771, cr: 2816, vmin: 0.1, vmax: 0.9, xDigits: 1,
  xTicks: sharedXTicks, yTicks: sharedYTicks, cTicks: sharedCbarTicks,
  series: sharedGroups.map(function (s) { return [s[0], s[1], s[2]]; })
});
drawPanel({
  id: 'panel-c', l: 260, r: 1237, t: 1558, b: 2464, x0: 607, kx: 696, y0: 2031, ky: 1015,
  cl: 1299, cr: 1345, vmin: 0.1, vmax: 0.9, xDigits: 1,
  xTicks: sharedXTicks, yTicks: sharedYTicks, cTicks: sharedCbarTicks,
  series: sharedGroups.map(function (s) { return [s[0], s[1], s[3]]; })
});
</script>
</body>
</html>
